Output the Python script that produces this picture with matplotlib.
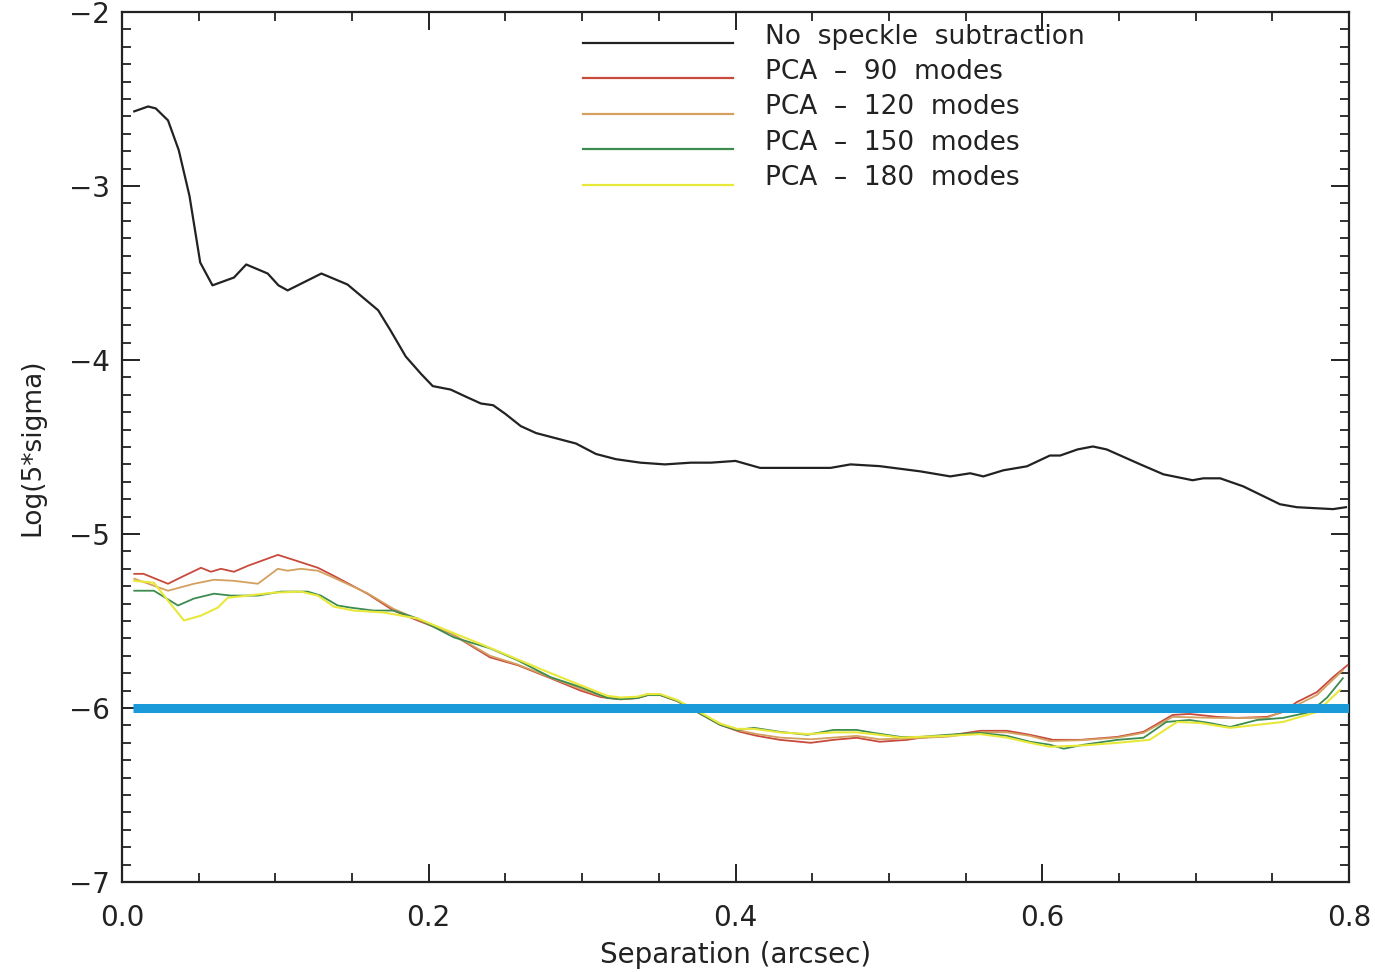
import matplotlib
matplotlib.use("Agg")
import matplotlib.pyplot as plt
from matplotlib.ticker import MultipleLocator, FixedLocator

plt.rcParams['font.family'] = ['DejaVu Sans']

# ---------------- data ----------------
black_x = [0.008, 0.017, 0.022, 0.030, 0.037, 0.044, 0.051, 0.059, 0.073, 0.081,
           0.095, 0.102, 0.108, 0.130, 0.147, 0.167, 0.175, 0.185, 0.195, 0.2026,
           0.2143, 0.224, 0.234, 0.242, 0.250, 0.260, 0.270, 0.283, 0.296, 0.309,
           0.322, 0.338, 0.354, 0.371, 0.384, 0.400, 0.416, 0.442, 0.462, 0.475,
           0.494, 0.5205, 0.540, 0.553, 0.5616, 0.5746, 0.590, 0.605, 0.6117, 0.623,
           0.633, 0.642, 0.664, 0.679, 0.698, 0.705, 0.716, 0.731, 0.755, 0.766,
           0.7765, 0.7896, 0.798]
black_y = [-2.571, -2.543, -2.554, -2.623, -2.794, -3.057, -3.44, -3.571, -3.526, -3.451,
           -3.503, -3.571, -3.60, -3.503, -3.566, -3.714, -3.829, -3.98, -4.08, -4.15,
           -4.17, -4.21, -4.25, -4.26, -4.31, -4.38, -4.42, -4.45, -4.48, -4.54,
           -4.57, -4.59, -4.60, -4.59, -4.59, -4.58, -4.62, -4.62, -4.62, -4.60,
           -4.61, -4.64, -4.669, -4.651, -4.669, -4.634, -4.611, -4.549, -4.549, -4.514,
           -4.497, -4.514, -4.60, -4.657, -4.691, -4.68, -4.68, -4.726, -4.829, -4.846,
           -4.851, -4.857, -4.846]

pca90_x = [0.008, 0.014, 0.030, 0.038, 0.0515, 0.058, 0.0645, 0.073, 0.082, 0.1016,
           0.112, 0.1277, 0.138, 0.160, 0.177, 0.1928, 0.2143, 0.240, 0.258, 0.2795,
           0.299, 0.312, 0.325, 0.336, 0.3427, 0.351, 0.362, 0.375, 0.390, 0.403,
           0.414, 0.429, 0.449, 0.464, 0.479, 0.494, 0.512, 0.5205, 0.538, 0.5596,
           0.577, 0.592, 0.607, 0.625, 0.649, 0.666, 0.685, 0.696, 0.714, 0.727,
           0.7466, 0.757, 0.766, 0.779, 0.7896, 0.799]
pca90_y = [-5.229, -5.229, -5.286, -5.251, -5.194, -5.217, -5.20, -5.217, -5.183, -5.12,
           -5.149, -5.194, -5.24, -5.343, -5.44, -5.497, -5.571, -5.709, -5.754, -5.829,
           -5.90, -5.937, -5.95, -5.943, -5.926, -5.926, -5.96, -6.023, -6.097, -6.137,
           -6.16, -6.183, -6.20, -6.183, -6.171, -6.194, -6.183, -6.171, -6.16, -6.131,
           -6.131, -6.154, -6.183, -6.183, -6.166, -6.137, -6.04, -6.034, -6.051, -6.057,
           -6.051, -6.023, -5.966, -5.909, -5.823, -5.754]

pca120_x = [0.008, 0.030, 0.0469, 0.060, 0.073, 0.0886, 0.1016, 0.108, 0.1166, 0.1277,
            0.138, 0.160, 0.177, 0.1928, 0.2143, 0.240, 0.258, 0.2795, 0.299, 0.312,
            0.325, 0.336, 0.3427, 0.351, 0.362, 0.375, 0.390, 0.403, 0.414, 0.429,
            0.449, 0.464, 0.479, 0.494, 0.512, 0.538, 0.5596, 0.577, 0.592, 0.605,
            0.625, 0.649, 0.666, 0.685, 0.714, 0.7466, 0.766, 0.779, 0.796]
pca120_y = [-5.257, -5.326, -5.286, -5.263, -5.269, -5.286, -5.20, -5.211, -5.20, -5.211,
            -5.251, -5.34, -5.43, -5.49, -5.57, -5.70, -5.75, -5.825, -5.89, -5.93,
            -5.95, -5.94, -5.92, -5.925, -5.955, -6.02, -6.09, -6.13, -6.15, -6.17,
            -6.18, -6.17, -6.16, -6.18, -6.175, -6.165, -6.14, -6.14, -6.16, -6.19,
            -6.185, -6.17, -6.143, -6.051, -6.057, -6.057, -5.983, -5.926, -5.783]

pca150_x = [0.008, 0.0208, 0.0365, 0.0469, 0.060, 0.071, 0.0886, 0.1036, 0.121, 0.1296,
            0.1407, 0.149, 0.164, 0.177, 0.1928, 0.2163, 0.240, 0.258, 0.2795, 0.299,
            0.3166, 0.325, 0.336, 0.3427, 0.351, 0.362, 0.375, 0.390, 0.401, 0.412,
            0.429, 0.447, 0.464, 0.479, 0.490, 0.5075, 0.5205, 0.538, 0.5596, 0.577,
            0.592, 0.605, 0.614, 0.627, 0.649, 0.666, 0.681, 0.696, 0.709, 0.7225,
            0.740, 0.757, 0.7746, 0.7857, 0.796]
pca150_y = [-5.326, -5.326, -5.411, -5.371, -5.343, -5.354, -5.354, -5.331, -5.331, -5.354,
            -5.411, -5.423, -5.44, -5.44, -5.486, -5.594, -5.657, -5.726, -5.823, -5.88,
            -5.943, -5.949, -5.943, -5.926, -5.926, -5.96, -6.023, -6.097, -6.126, -6.114,
            -6.137, -6.154, -6.126, -6.126, -6.143, -6.166, -6.166, -6.154, -6.143, -6.16,
            -6.194, -6.211, -6.234, -6.211, -6.183, -6.171, -6.08, -6.069, -6.086, -6.109,
            -6.069, -6.057, -6.023, -5.94, -5.829]

pca180_x = [0.008, 0.0208, 0.030, 0.0404, 0.0515, 0.0625, 0.069, 0.082, 0.099, 0.1166,
            0.1277, 0.138, 0.151, 0.1707, 0.1928, 0.236, 0.2795, 0.299, 0.3166, 0.325,
            0.336, 0.3427, 0.351, 0.362, 0.375, 0.390, 0.401, 0.412, 0.429, 0.447,
            0.464, 0.479, 0.490, 0.5075, 0.538, 0.5596, 0.577, 0.592, 0.605, 0.627,
            0.649, 0.670, 0.688, 0.703, 0.7225, 0.740, 0.757, 0.779, 0.794]
pca180_y = [-5.269, -5.28, -5.383, -5.497, -5.469, -5.423, -5.366, -5.354, -5.337, -5.331,
            -5.354, -5.417, -5.44, -5.451, -5.486, -5.64, -5.80, -5.869, -5.93, -5.94,
            -5.935, -5.92, -5.92, -5.955, -6.015, -6.09, -6.12, -6.12, -6.14, -6.15,
            -6.14, -6.14, -6.15, -6.17, -6.16, -6.15, -6.17, -6.20, -6.223, -6.215,
            -6.20, -6.183, -6.08, -6.086, -6.114, -6.097, -6.08, -6.023, -5.897]

threshold_x = [0.007, 0.8]
threshold_y = [-6.0, -6.0]

labels = ["No  speckle  subtraction", "PCA  \u2013  90  modes", "PCA  \u2013  120  modes",
          "PCA  \u2013  150  modes", "PCA  \u2013  180  modes"]
colors = ["#222222", "#c84a3c", "#d4a060", "#3c8c50", "#e8e83a"]

# ---------------- figure ----------------
W, H = 1375, 972
fig = plt.figure(figsize=(W / 100, H / 100), dpi=100)
L, R, T, B = 122, 1349, 12, 882
ax = fig.add_axes([L / W, 1 - B / H, (R - L) / W, (B - T) / H])

series = [(black_x, black_y), (pca90_x, pca90_y), (pca120_x, pca120_y),
          (pca150_x, pca150_y), (pca180_x, pca180_y)]
widths = [1.6, 1.3, 1.3, 1.3, 1.5]
for (xs, ys), c, lw in zip(series, colors, widths):
    ax.plot(xs, ys, color=c, lw=lw, zorder=3)

ax.plot(threshold_x, threshold_y, color="#1a9ad8", lw=6.5, solid_capstyle='butt', zorder=4)

ax.set_xlim(0.0, 0.8)
ax.set_ylim(-7.0, -2.0)

ax.xaxis.set_major_locator(FixedLocator([0.0, 0.2, 0.4, 0.6, 0.8]))
ax.xaxis.set_minor_locator(MultipleLocator(0.05))
ax.yaxis.set_major_locator(MultipleLocator(1.0))
ax.yaxis.set_minor_locator(MultipleLocator(0.1))
ax.set_xticklabels(["0.0", "0.2", "0.4", "0.6", "0.8"])

ax.tick_params(which='both', direction='in', top=True, right=True, color='#222222')
ax.tick_params(which='major', length=13, width=1.4)
ax.tick_params(which='minor', length=6.5, width=1.3)
ax.tick_params(axis='x', which='major', labelsize=20, pad=16, labelcolor='#222222')
ax.tick_params(axis='y', which='major', labelsize=20, pad=9, labelcolor='#222222')

for sp in ax.spines.values():
    sp.set_linewidth(1.6)
    sp.set_color('#222222')

ax.set_xlabel("Separation (arcsec)", fontsize=20, color='#222222', labelpad=6)
ax.set_ylabel("Log(5*sigma)", fontsize=19, color='#222222', labelpad=17)

# legend drawn manually in axes coordinates (layout only)
def ax_x(px):
    return (px - L) / (R - L)

def ax_y(py):
    return (B - py) / (B - T)

for i, (lab, c) in enumerate(zip(labels, colors)):
    ly = 43 + 35.5 * i
    ty = 37 + 35.2 * i
    ax.plot([ax_x(583), ax_x(733)], [ax_y(ly), ax_y(ly)], color=c, lw=1.6,
            transform=ax.transAxes, clip_on=False)
    ax.text(ax_x(765), ax_y(ty), lab, transform=ax.transAxes, fontsize=19,
            va='center', ha='left', color='#222222')

fig.savefig("out.png", dpi=100)
